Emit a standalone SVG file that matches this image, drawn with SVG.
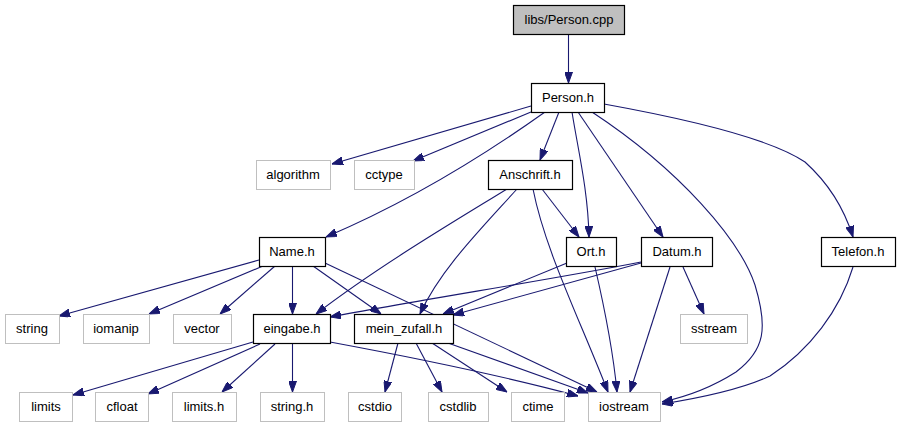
<svg xmlns="http://www.w3.org/2000/svg" width="901" height="427" viewBox="0 0 901 427">
<style>
.n rect{fill:#fff;stroke:#000;stroke-width:1.2}
.g rect{fill:#fff;stroke:#bfbfbf;stroke-width:1}
.cur rect{fill:#bfbfbf;stroke:#000;stroke-width:1.2}
text{font-family:"Liberation Sans",Arial,Helvetica,sans-serif;font-size:13px;fill:#000;text-anchor:middle}
#edges path{fill:none;stroke:#191970;stroke-width:1.1;marker-end:url(#arr)}
</style>
<defs>
<marker id="arr" viewBox="0 0 11 8" refX="11" refY="4" markerWidth="11" markerHeight="8" markerUnits="userSpaceOnUse" orient="auto">
<path d="M0,0 L11,4 L0,8 z" fill="#191970" stroke="#191970" stroke-width="1"/>
</marker>
</defs>
<rect width="901" height="427" fill="#fff"/>
<g id="edges">
<path d="M568.5,34 L568.5,83"/>
<path d="M531,106 L332,164"/>
<path d="M531,112 L413,161"/>
<path d="M559,112 L540,160"/>
<path d="M545,112 Q434,191 326,237"/>
<path d="M572,112 C578,150 588,190 589,237"/>
<path d="M578,112 L663,237"/>
<path d="M592,112 C680,170 740,240 755,285 C768,328 765,350 736,372 C714,386 690,396 662,402"/>
<path d="M604,104 C720,125 780,145 805,162 C825,180 843,205 853,237"/>
<path d="M542,189 L579,237"/>
<path d="M507,189 C460,218 380,265 316,314"/>
<path d="M517,189 C480,230 440,270 420,314"/>
<path d="M533,189 C545,250 580,320 608,392"/>
<path d="M259,260 L59,316"/>
<path d="M263,266 L149,314"/>
<path d="M275,266 L220,314"/>
<path d="M292.5,266 L292.5,314"/>
<path d="M313,266 L381,314"/>
<path d="M325,263 L597,392"/>
<path d="M567,263 L443,314"/>
<path d="M595,267 C605,310 613,350 617,392"/>
<path d="M641,262 C560,278 420,300 330,317"/>
<path d="M641,263 L453,315"/>
<path d="M683,267 L704,314"/>
<path d="M670,267 L630,392"/>
<path d="M853,267 C840,310 810,350 770,376 C740,390 700,398 662,404"/>
<path d="M253,342 L73,395"/>
<path d="M260,344 L148,394"/>
<path d="M275,344 L222,392"/>
<path d="M292.5,344 L292.5,392"/>
<path d="M330,342 C400,355 500,375 578,396"/>
<path d="M398,343 L385,392"/>
<path d="M416,343 L442,392"/>
<path d="M432,343 L507,392"/>
<path d="M448,343 L588,393"/>
</g>
<g id="n_person_cpp" class="cur"><rect x="513.5" y="5.5" width="111" height="29"/><text x="569" y="24">libs/Person.cpp</text></g>
<g id="n_person_h" class="n"><rect x="531.5" y="83.5" width="73" height="29"/><text x="568" y="102">Person.h</text></g>
<g id="n_algorithm" class="g"><rect x="256.5" y="160.5" width="74" height="29"/><text x="293" y="179">algorithm</text></g>
<g id="n_cctype" class="g"><rect x="354.5" y="160.5" width="60" height="29"/><text x="384" y="179">cctype</text></g>
<g id="n_anschrift" class="n"><rect x="488.5" y="160.5" width="84" height="29"/><text x="530" y="179">Anschrift.h</text></g>
<g id="n_name" class="n"><rect x="259.5" y="237.5" width="66" height="29"/><text x="292" y="256">Name.h</text></g>
<g id="n_ort" class="n"><rect x="566.5" y="237.5" width="50" height="29"/><text x="591" y="256">Ort.h</text></g>
<g id="n_datum" class="n"><rect x="641.5" y="237.5" width="71" height="29"/><text x="677" y="256">Datum.h</text></g>
<g id="n_telefon" class="n"><rect x="821.5" y="237.5" width="74" height="29"/><text x="858" y="256">Telefon.h</text></g>
<g id="n_string" class="g"><rect x="5.5" y="314.5" width="54" height="29"/><text x="32" y="333">string</text></g>
<g id="n_iomanip" class="g"><rect x="83.5" y="314.5" width="66" height="29"/><text x="116" y="333">iomanip</text></g>
<g id="n_vector" class="g"><rect x="173.5" y="314.5" width="58" height="29"/><text x="202" y="333">vector</text></g>
<g id="n_eingabe" class="n"><rect x="253.5" y="314.5" width="77" height="29"/><text x="292" y="333">eingabe.h</text></g>
<g id="n_mein_zufall" class="n"><rect x="354.5" y="314.5" width="99" height="29"/><text x="404" y="333">mein_zufall.h</text></g>
<g id="n_sstream" class="g"><rect x="680.5" y="314.5" width="67" height="29"/><text x="714" y="333">sstream</text></g>
<g id="n_limits" class="g"><rect x="19.5" y="392.5" width="53" height="29"/><text x="46" y="411">limits</text></g>
<g id="n_cfloat" class="g"><rect x="95.5" y="392.5" width="53" height="29"/><text x="122" y="411">cfloat</text></g>
<g id="n_limits_h" class="g"><rect x="172.5" y="392.5" width="64" height="29"/><text x="204" y="411">limits.h</text></g>
<g id="n_string_h" class="g"><rect x="260.5" y="392.5" width="64" height="29"/><text x="292" y="411">string.h</text></g>
<g id="n_cstdio" class="g"><rect x="348.5" y="392.5" width="53" height="29"/><text x="375" y="411">cstdio</text></g>
<g id="n_cstdlib" class="g"><rect x="428.5" y="392.5" width="60" height="29"/><text x="458" y="411">cstdlib</text></g>
<g id="n_ctime" class="g"><rect x="511.5" y="392.5" width="53" height="29"/><text x="538" y="411">ctime</text></g>
<g id="n_iostream" class="g"><rect x="588.5" y="392.5" width="72" height="29"/><text x="624" y="411">iostream</text></g>
</svg>
